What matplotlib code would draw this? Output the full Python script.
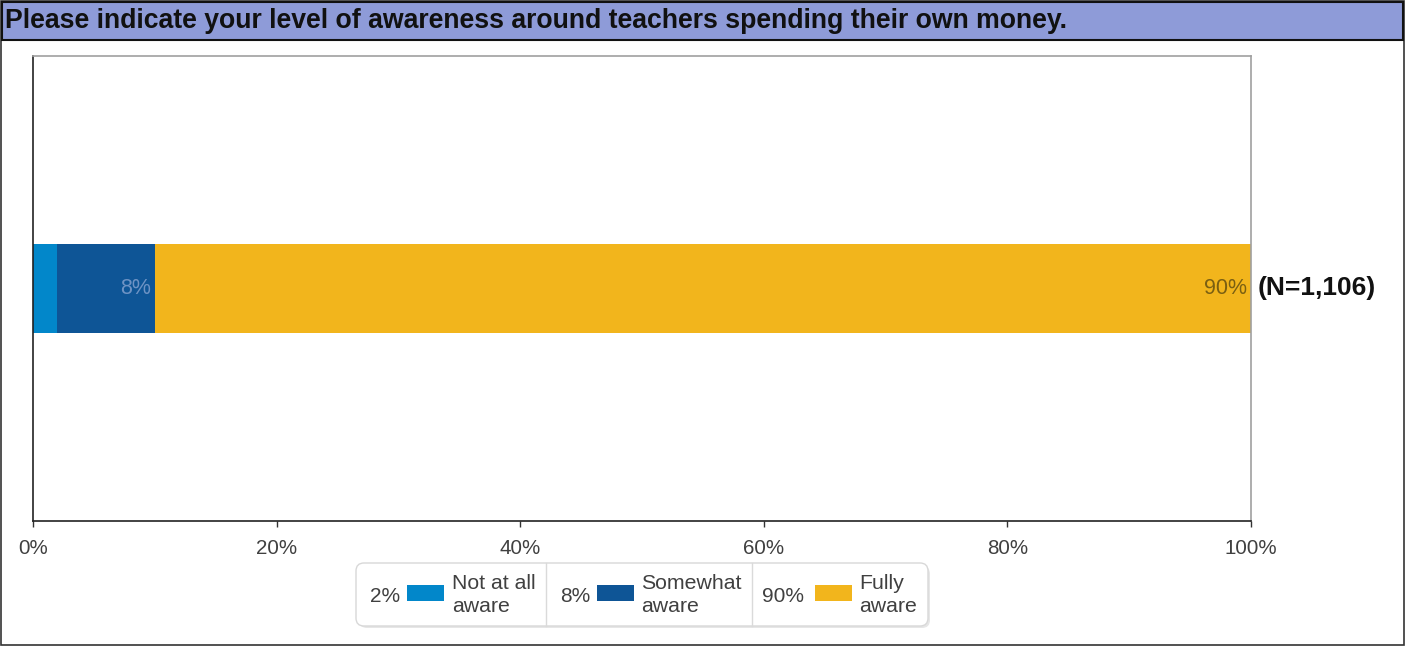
import matplotlib
matplotlib.use("Agg")
import matplotlib.pyplot as plt
from matplotlib.patches import Rectangle, FancyBboxPatch

title = "Please indicate your level of awareness around teachers spending their own money."
categories = ["Not at all\naware", "Somewhat\naware", "Fully\naware"]
values = [2, 8, 90]
colors = ["#0287CA", "#0E5596", "#F2B51C"]
label_colors = [None, "#6E93C4", "#7A5F12"]
n_label = "(N=1,106)"
xticks = [0, 20, 40, 60, 80, 100]

W, H = 1405, 646
plt.rcParams['font.family'] = ['Liberation Sans', 'DejaVu Sans']


def fx(px):
    return px / W


def fy(py):
    return 1 - py / H


fig = plt.figure(figsize=(W / 100, H / 100), dpi=100)

# outer frame and title band
fig.patches.append(Rectangle((fx(1), fy(645)), fx(1403), 644 / H, transform=fig.transFigure,
                             facecolor="none", edgecolor="#333333", lw=1.2))
fig.patches.append(Rectangle((fx(2), fy(40)), fx(1401), 38 / H, transform=fig.transFigure,
                             facecolor="#8E9BD8", edgecolor="#111111", lw=1.5))
fig.text(fx(5), fy(21), title, fontsize=19.2, fontweight="bold", color="#111111",
         va="center", ha="left")

ax = fig.add_axes([fx(33), fy(521), fx(1251 - 33), (521 - 56) / H])
left = 0
for val, col, lc in zip(values, colors, label_colors):
    ax.barh(0, val, left=left, height=0.387, color=col, edgecolor="none")
    if lc is not None:
        ax.text(left + val - 0.35, 0, f"{val}%", color=lc, fontsize=15.5,
                ha="right", va="center")
    left += val
ax.text(100.55, 0, n_label, fontsize=19, fontweight="bold", color="#111111",
        ha="left", va="center")

ax.set_xlim(0, 100)
ax.set_ylim(-1, 1)
ax.set_yticks([])
ax.set_xticks(xticks)
ax.set_xticklabels([f"{t}%" for t in xticks], fontsize=14.8, color="#404040")
ax.tick_params(axis="x", length=4, width=1, color="#333333", pad=9)
for s in ["left", "bottom"]:
    ax.spines[s].set_color("#222222")
    ax.spines[s].set_linewidth(1.2)
for s in ["top", "right"]:
    ax.spines[s].set_color("#A0A0A0")
    ax.spines[s].set_linewidth(1.2)

# legend
lax = fig.add_axes([fx(355), fy(630), fx(932 - 355), (630 - 562) / H])
lax.set_xlim(355, 932)
lax.set_ylim(630, 562)
lax.axis("off")
lax.add_patch(FancyBboxPatch((359, 566), 571, 62, boxstyle="round,pad=0,rounding_size=8",
                             facecolor="#E6E6E6", edgecolor="none", zorder=0))
lax.add_patch(FancyBboxPatch((356, 563), 572, 63, boxstyle="round,pad=0,rounding_size=8",
                             facecolor="white", edgecolor="#D8D8D8", lw=1, zorder=1))
cell_edges = [356, 546, 752, 928]
for x in cell_edges[1:-1]:
    lax.plot([x, x], [563, 626], color="#DADADA", lw=1, zorder=2)
pct_x = [385, 575, 783]
patch_x = [407, 597, 815]
text_x = [452, 641, 859]
for px, bx, tx, val, col, cat in zip(pct_x, patch_x, text_x, values, colors, categories):
    lax.text(px, 596, f"{val}%", fontsize=15, color="#404040", ha="center", va="center", zorder=3)
    lax.add_patch(Rectangle((bx, 585), 37, 16, facecolor=col, edgecolor="none", zorder=3))
    lax.text(tx, 595, cat, fontsize=15.3, color="#404040", ha="left", va="center",
             linespacing=1.3, zorder=3)

fig.savefig("out.png", dpi=100)
